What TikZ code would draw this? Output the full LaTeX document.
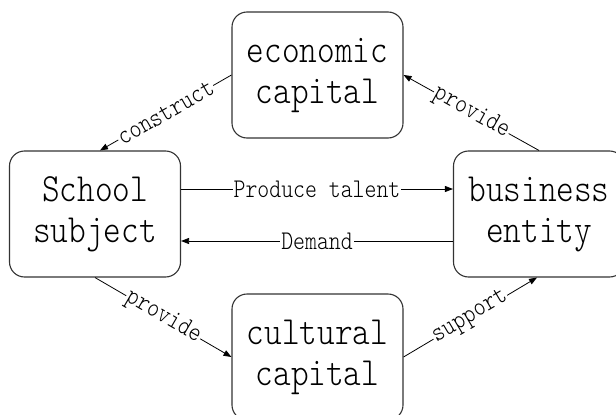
\documentclass[tikz,border=0pt]{standalone}
\usepackage{fontspec}
\usetikzlibrary{arrows.meta}
% narrow light typewriter face for all texts
\newfontfamily\boxfont[FakeStretch=0.84]{lmmonolt10-regular.otf}
\begin{document}
\begin{tikzpicture}[x=1pt,y=-1pt,
  box/.style={draw=black!80,line width=1.1pt,rounded corners=15pt,
    minimum width=171pt,minimum height=126pt,inner sep=0pt,align=center,
    font=\boxfont\fontsize{40}{41}\selectfont},
  link/.style={draw,line width=0.8pt,-{Triangle[length=8pt,width=6pt]}},
  tag/.style={fill=white,inner sep=1pt,font=\boxfont\fontsize{27}{27}\selectfont}]

\useasboundingbox (0,0) rectangle (616,415);
\clip (0,0) rectangle (616,415);

% Boxes
\node[box] (econ) at (317.5,75) {economic\\capital};
\node[box] (school) at (95,214) {School\\subject};
\node[box] (business) at (539,214) {business\\entity};
\node[box] (cultural) at (317.5,357) {cultural\\capital};

% Upper links
\draw[link] (econ.west) -- node[tag,sloped]{construct} ([xshift=5pt]school.north);
\draw[link] (business.north) -- node[tag,sloped]{provide} (econ.east);

% Middle links
\draw[link] ([yshift=25pt]school.east) -- node[tag]{Produce talent} ([yshift=25pt]business.west);
\draw[link] ([yshift=-27pt]business.west) -- node[tag]{Demand} ([yshift=-27pt]school.east);

% Lower links
\draw[link] (school.south) -- node[tag,sloped]{provide} (cultural.west);
\draw[link] (cultural.east) -- node[tag,sloped]{support} ([xshift=-2pt]business.south);

\end{tikzpicture}
\end{document}
